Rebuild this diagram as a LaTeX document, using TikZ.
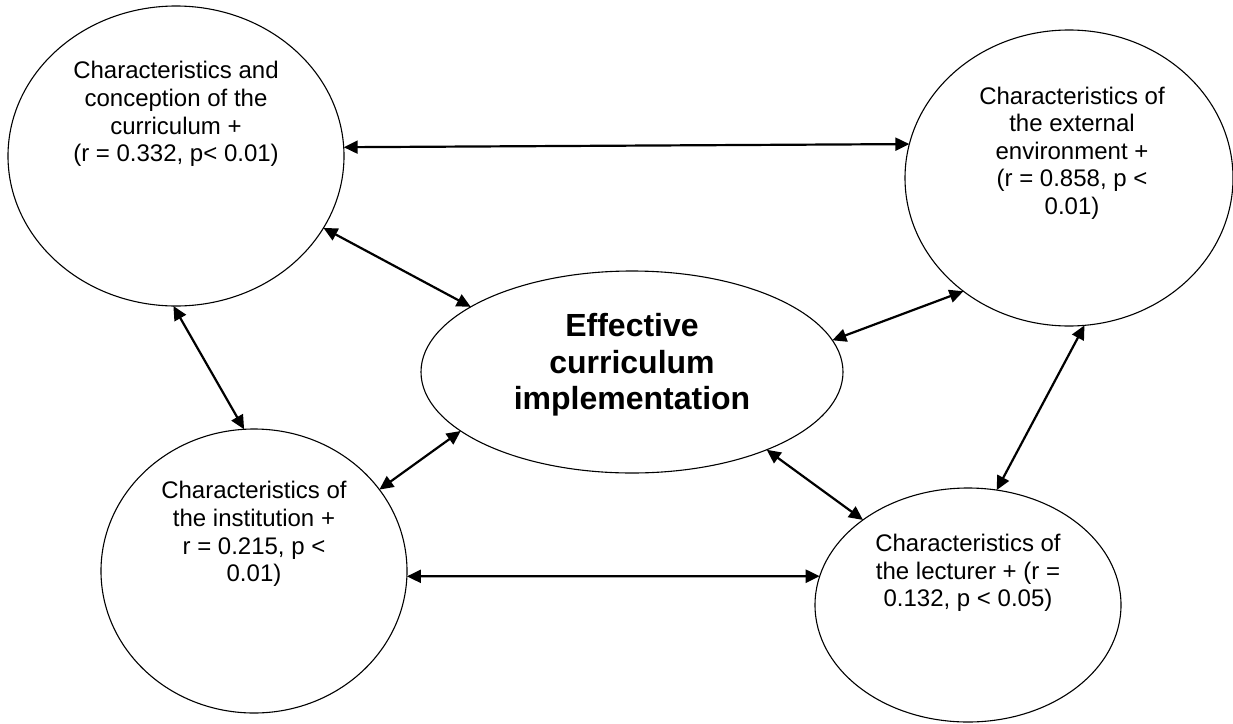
\documentclass[tikz,border=0pt]{standalone}
\usepackage{fontspec}
\setmainfont{Liberation Sans}
\usetikzlibrary{shapes.geometric,arrows.meta}
\begin{document}
\begin{tikzpicture}[x=1pt,y=-1pt,
  bubble/.style={ellipse, draw, line width=1.1pt, inner sep=0pt, outer sep=0pt},
  txt/.style={align=center, font=\fontsize{24}{27.6}\selectfont, inner sep=0pt},
  maintxt/.style={align=center, font=\fontsize{32}{36.5}\selectfont\bfseries, inner sep=0pt},
  link/.style={{Triangle[length=14pt,width=13pt]}-{Triangle[length=14pt,width=13pt]}, line width=2.2pt}]
\useasboundingbox[fill=white] (0,0) rectangle (1233,723);

\node[bubble, minimum width=336, minimum height=300] (tl) at (176,156) {};
\node[bubble, minimum width=328, minimum height=296] (tr) at (1069,178) {};
\node[bubble, minimum width=422, minimum height=202] (c) at (632,372) {};
\node[bubble, minimum width=306, minimum height=284] (bl) at (254,571) {};
\node[bubble, minimum width=306, minimum height=234] (br) at (968,605) {};

\node[txt] (tlt) at (176,114) {Characteristics and\\conception of the\\curriculum +\\(r = 0.332, p< 0.01)};
\node[txt] (trt) at (1072,153) {Characteristics of\\the external\\environment +\\(r = 0.858, p <\\0.01)};
\node[txt] (blt) at (254,534) {Characteristics of\\the institution +\\r = 0.215, p <\\0.01)};
\node[txt] (brt) at (968,573) {Characteristics of\\the lecturer + (r =\\0.132, p < 0.05)};
\node[maintxt] (ct) at (632,365) {Effective\\curriculum\\implementation};

\draw[link] (tl.3.76) -- (tr.168.34);
\draw[link] (tl.-26.6) -- (c.158);
\draw[link] (tl.-91) -- (bl.94.8);
\draw[link] (c.-161.9) -- (bl.33);
\draw[link] (bl.-2.62) -- (br.169.72);
\draw[link] (c.-30.6) -- (br.141.8);
\draw[link] (c.9.8) -- (tr.-133.9);
\draw[link] (tr.-84.7) -- (br.76.1);
\end{tikzpicture}
\end{document}
